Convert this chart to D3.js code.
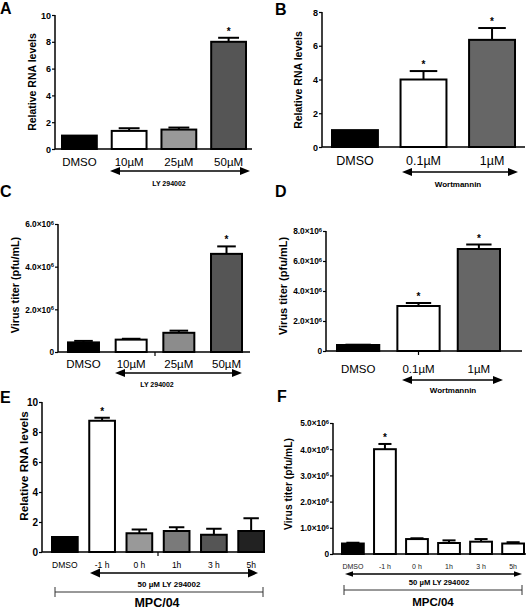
<!DOCTYPE html>
<html><head><meta charset="utf-8">
<script src="https://cdn.jsdelivr.net/npm/d3@7"></script>
<style>body{margin:0;background:#fff}svg{display:block}text{font-family:"Liberation Sans",Arial,sans-serif}</style>
</head><body><svg id="c" width="531" height="610"></svg>
<script>
// ---- data ----
const catsA = ["DMSO", "10µM", "25µM", "50µM"];
const valsA = [1.0, 1.35, 1.45, 8.0];
const errA  = [1.0, 1.55, 1.6, 8.3];
const sigA  = [0, 0, 0, 1];
const ticksA = [0, 2, 4, 6, 8, 10];

const catsB = ["DMSO", "0.1µM", "1µM"];
const valsB = [1.0, 4.0, 6.35];
const errB  = [1.0, 4.5, 7.05];
const sigB  = [0, 1, 1];
const ticksB = [0, 2, 4, 6, 8];

const catsC = ["DMSO", "10µM", "25µM", "50µM"];
const valsC = [0.45e6, 0.58e6, 0.9e6, 4.6e6];
const errC  = [0.52e6, 0.62e6, 1.0e6, 4.95e6];
const sigC  = [0, 0, 0, 1];
const ticksC = [0, 2e6, 4e6, 6e6];

const catsD = ["DMSO", "0.1µM", "1µM"];
const valsD = [0.4e6, 3.0e6, 6.8e6];
const errD  = [0.42e6, 3.2e6, 7.1e6];
const sigD  = [0, 1, 1];
const ticksD = [0, 2e6, 4e6, 6e6, 8e6];

const catsE = ["DMSO", "-1 h", "0 h", "1h", "3 h", "5h"];
const valsE = [1.0, 8.75, 1.25, 1.4, 1.15, 1.4];
const errE  = [1.0, 8.95, 1.5, 1.65, 1.55, 2.25];
const sigE  = [0, 1, 0, 0, 0, 0];
const ticksE = [0, 2, 4, 6, 8, 10];

const catsF = ["DMSO", "-1 h", "0 h", "1h", "3 h", "5h"];
const valsF = [0.4e6, 4.0e6, 0.57e6, 0.42e6, 0.47e6, 0.4e6];
const errF  = [0.43e6, 4.2e6, 0.6e6, 0.52e6, 0.57e6, 0.45e6];
const sigF  = [0, 1, 0, 0, 0, 0];
const ticksF = [0, 1e6, 2e6, 3e6, 4e6, 5e6];

const svg = d3.select("#c");

function sciFmt(g, v) {
  if (v === 0) { g.text("0"); return; }
  const m = (v / 1e6).toFixed(1);
  g.text(m + "×10");
  g.append("tspan").attr("dy", "-0.45em").attr("font-size", "0.7em").text("6");
}

function panel(o) {
  const g = svg.append("g");
  const x = d3.scaleBand().domain(o.cats).range(o.xr).paddingInner(o.pad).paddingOuter(0);
  const y = d3.scaleLinear().domain([0, o.ticks[o.ticks.length - 1]]).range(o.yr);
  // bars
  g.selectAll("rect.bar").data(o.cats).join("rect")
    .attr("x", d => x(d)).attr("width", x.bandwidth())
    .attr("y", (d, i) => y(o.vals[i])).attr("height", (d, i) => y(0) - y(o.vals[i]))
    .attr("fill", (d, i) => o.colors[i]).attr("stroke", "#000").attr("stroke-width", 2);
  // error bars
  o.cats.forEach((c, i) => {
    if (o.err[i] <= o.vals[i]) return;
    const cx = x(c) + x.bandwidth() / 2, hw = x.bandwidth() * 0.3;
    g.append("line").attr("x1", cx).attr("x2", cx).attr("y1", y(o.vals[i])).attr("y2", y(o.err[i]))
      .attr("stroke", "#000").attr("stroke-width", 2);
    g.append("line").attr("x1", cx - hw).attr("x2", cx + hw).attr("y1", y(o.err[i])).attr("y2", y(o.err[i]))
      .attr("stroke", "#000").attr("stroke-width", 2);
    if (o.sig[i]) g.append("text").attr("x", cx).attr("y", y(o.err[i]) - 3).attr("text-anchor", "middle")
      .attr("font-size", 10).attr("font-weight", "bold").text("*");
  });
  // y axis
  const ya = d3.axisLeft(y).tickValues(o.ticks).tickSize(3).tickPadding(1).tickFormat("");
  const yg = g.append("g").attr("transform", `translate(${o.ax},0)`).call(ya);
  yg.select(".domain").attr("stroke-width", 1.5).attr("d", `M0,${y(0)}V${o.yr[1]}`);
  yg.selectAll(".tick line").attr("stroke-width", 1.2);
  yg.selectAll(".tick").append("text").attr("x", -4).attr("dy", "0.35em").attr("text-anchor", "end")
    .attr("fill", "#000").attr("font-size", o.tickFs).attr("font-weight", "bold")
    .each(function (d) { if (o.sci) sciFmt(d3.select(this), d); else d3.select(this).text(d); });
  // x axis line
  g.append("line").attr("x1", o.ax).attr("x2", o.axEnd).attr("y1", y(0)).attr("y2", y(0))
    .attr("stroke", "#000").attr("stroke-width", 1.5);
  if (o.midTick != null) {
    const i = Math.floor(o.midTick), f = o.midTick - i;
    const mx = x(o.cats[i]) + x.bandwidth() / 2 + f * x.step();
    g.append("line").attr("x1", mx).attr("x2", mx).attr("y1", y(0)).attr("y2", y(0) + 4)
      .attr("stroke", "#000").attr("stroke-width", 1.2);
  }
  // category labels
  g.selectAll("text.cat").data(o.cats).join("text").attr("class", "cat")
    .attr("x", d => x(d) + x.bandwidth() / 2).attr("y", o.labY).attr("text-anchor", "middle")
    .attr("font-size", o.catFs).attr("fill", o.catColor || "#000").text(d => d);
  // y title
  g.append("text").attr("transform", `translate(${o.ytX},${o.ytY}) rotate(-90)`).attr("dy", "0.35em")
    .attr("text-anchor", "middle").attr("font-size", o.ytFs).attr("font-weight", "bold").text(o.ytitle);
  // arrow
  const ay = o.arrow.y, ah = o.arrow.ah || 4, al = o.arrow.al || 10;
  g.append("line").attr("x1", o.arrow.x1 + 6).attr("x2", o.arrow.x2 - 6).attr("y1", ay).attr("y2", ay)
    .attr("stroke", "#000").attr("stroke-width", 1.3);
  g.append("path").attr("d", `M${o.arrow.x1},${ay}L${o.arrow.x1 + al},${ay - ah}L${o.arrow.x1 + al},${ay + ah}Z`);
  g.append("path").attr("d", `M${o.arrow.x2},${ay}L${o.arrow.x2 - al},${ay - ah}L${o.arrow.x2 - al},${ay + ah}Z`);
  g.append("text").attr("x", o.arrow.lx).attr("y", o.arrow.ly).attr("text-anchor", "middle")
    .attr("font-size", o.arrow.fs).attr("font-weight", "bold").text(o.arrow.label);
  if (o.bracket) {
    const b = o.bracket;
    g.append("path").attr("d", `M${b.x1},${b.y - 5}V${b.y + 5}M${b.x1},${b.y}H${b.x2}M${b.x2},${b.y - 5}V${b.y + 5}`)
      .attr("fill", "none").attr("stroke", "#333").attr("stroke-width", 1);
    g.append("text").attr("x", b.lx).attr("y", b.ly).attr("text-anchor", "middle")
      .attr("font-size", b.fs).attr("font-weight", "bold").text(b.label);
  }
  // panel letter
  g.append("text").attr("x", o.letter[1]).attr("y", o.letter[2]).attr("font-size", 16)
    .attr("font-weight", "bold").text(o.letter[0]);
}

panel({cats: catsA, vals: valsA, err: errA, sig: sigA, ticks: ticksA,
  colors: ["#000", "#fff", "#999", "#555"], xr: [62, 246], pad: 0.3, yr: [149, 15], ax: 55, axEnd: 252,
  tickFs: 9, catFs: 11.5, labY: 166, ytitle: "Relative RNA levels", ytX: 32, ytY: 82, ytFs: 10.5,
  arrow: {y: 171, x1: 110, x2: 250, label: "LY 294002", lx: 169, ly: 186, fs: 7}, letter: ["A", 0, 14]});

panel({cats: catsB, vals: valsB, err: errB, sig: sigB, ticks: ticksB,
  colors: ["#000", "#fff", "#666"], xr: [332, 515], pad: 0.33, yr: [147, 12], ax: 322, axEnd: 525,
  tickFs: 9, catFs: 12.5, labY: 165, ytitle: "Relative RNA levels", ytX: 298, ytY: 80, ytFs: 10.5,
  arrow: {y: 172, x1: 402, x2: 518, label: "Wortmannin", lx: 458, ly: 187, fs: 8}, letter: ["B", 275, 15]});

panel({cats: catsC, vals: valsC, err: errC, sig: sigC, ticks: ticksC, sci: true,
  colors: ["#000", "#fff", "#8c8c8c", "#555"], xr: [68, 242], pad: 0.35, yr: [352, 224], ax: 58, axEnd: 250,
  tickFs: 8.3, catFs: 11.5, labY: 368, ytitle: "Virus titer (pfu/mL)", ytX: 15, ytY: 285, ytFs: 10.8,
  midTick: 1.5,
  arrow: {y: 373, x1: 115, x2: 242, label: "LY 294002", lx: 157, ly: 387, fs: 7}, letter: ["C", 0, 197]});

panel({cats: catsD, vals: valsD, err: errD, sig: sigD, ticks: ticksD, sci: true,
  colors: ["#000", "#fff", "#666"], xr: [337, 500], pad: 0.3, yr: [351, 231], ax: 326, axEnd: 522,
  tickFs: 8.3, catFs: 11.5, labY: 373, ytitle: "Virus titer (pfu/mL)", ytX: 283, ytY: 286, ytFs: 11,
  midTick: 1,
  arrow: {y: 380, x1: 402, x2: 503, label: "Wortmannin", lx: 453, ly: 393, fs: 8}, letter: ["D", 275, 197]});

panel({cats: catsE, vals: valsE, err: errE, sig: sigE, ticks: ticksE,
  colors: ["#000", "#fff", "#999", "#7a7a7a", "#555", "#222"], xr: [52, 264], pad: 0.31, yr: [552, 402], ax: 42, axEnd: 265,
  tickFs: 10, catFs: 8.5, labY: 568, ytitle: "Relative RNA levels", ytX: 24, ytY: 466, ytFs: 11.8,
  midTick: 2.5,
  arrow: {y: 573, x1: 90, x2: 258, label: "50 µM LY 294002", lx: 169, ly: 587, fs: 8, ah: 4.5},
  bracket: {y: 592, x1: 55, x2: 263, label: "MPC/04", lx: 157, ly: 607, fs: 12.5}, letter: ["E", 0, 403]});

panel({cats: catsF, vals: valsF, err: errF, sig: sigF, ticks: ticksF, sci: true,
  colors: ["#000", "#fff", "#fff", "#fff", "#fff", "#fff"], xr: [342, 524], pad: 0.32, yr: [554, 423], ax: 333, axEnd: 526,
  tickFs: 8.3, catFs: 7, catColor: "#222", labY: 569, ytitle: "Virus titer (pfu/mL)", ytX: 288, ytY: 484, ytFs: 10.3,
  arrow: {y: 574, x1: 345, x2: 522, label: "50 µM LY 294002", lx: 439, ly: 585, fs: 7.7, ah: 2.8, al: 8},
  bracket: {y: 590, x1: 344, x2: 522, label: "MPC/04", lx: 433, ly: 606, fs: 11.5}, letter: ["F", 277, 402]});
</script></body></html>
